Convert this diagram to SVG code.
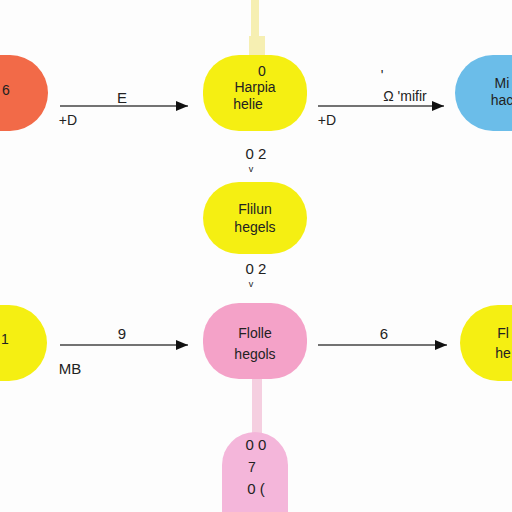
<svg xmlns="http://www.w3.org/2000/svg" width="512" height="512" viewBox="0 0 512 512">
<defs>
<style>
.t{font-family:"Liberation Sans",Arial,sans-serif;fill:#222;text-anchor:middle}
.n{font-size:14px}
.l{font-size:15px}
.s{font-size:9px}
.c{stroke:#444;stroke-width:1.6;fill:none}
</style>
<marker id="ah" viewBox="0 0 12 10" refX="12" refY="5" markerWidth="12" markerHeight="10" markerUnits="userSpaceOnUse" orient="auto">
<path d="M0,0L12,5L0,10Z" fill="#111"/>
</marker>
</defs>
<rect width="512" height="512" fill="#fdfdfd"/>
<g id="bars">
<rect x="251" y="0" width="8" height="45" fill="#f6efb2"/>
<rect x="249" y="36" width="16" height="22" fill="#f6efb2"/>
<rect x="252" y="376" width="10" height="62" fill="#f5cfe0"/>
</g>
<g id="connectors">
<line class="c" x1="60" y1="106" x2="188" y2="106" marker-end="url(#ah)"/>
<line class="c" x1="318" y1="106" x2="444" y2="106" marker-end="url(#ah)"/>
<line class="c" x1="60" y1="345" x2="188" y2="345" marker-end="url(#ah)"/>
<line class="c" x1="318" y1="345" x2="447" y2="345" marker-end="url(#ah)"/>
<text class="t l" x="122" y="103">E</text>
<text class="t n" x="68" y="125">+D</text>
<text class="t n" x="382" y="80" fill="#222">'</text>
<text class="t n" x="405" y="101">Ω 'mifir</text>
<text class="t n" x="327" y="125">+D</text>
<text class="t l" x="256" y="159">0 2</text>
<text class="t s" x="251" y="172">v</text>
<text class="t l" x="256" y="274">0 2</text>
<text class="t s" x="251" y="287">v</text>
<text class="t l" x="122" y="339">9</text>
<text class="t l" x="70" y="374">MB</text>
<text class="t l" x="384" y="339">6</text>
</g>
<g id="n-red">
<rect x="-40" y="55" width="88" height="76" rx="38" fill="#f26a48"/>
<text class="t n" x="6" y="95">6</text>
</g>
<g id="n-top">
<rect x="203" y="55" width="104" height="76" rx="36" fill="#f5ef12"/>
<text class="t n" x="262" y="76">0</text>
<text class="t n" x="255" y="92">Harpia</text>
<text class="t n" x="248" y="109">helie</text>
</g>
<g id="n-blue">
<rect x="455" y="55" width="100" height="76" rx="38" fill="#6bbde9"/>
<text class="t n" x="502" y="88">Mi</text>
<text class="t n" x="502" y="105">hac</text>
</g>
<g id="n-mid">
<rect x="203" y="182" width="104" height="72" rx="36" fill="#f5ef12"/>
<text class="t n" x="255" y="214">Flilun</text>
<text class="t n" x="255" y="232">hegels</text>
</g>
<g id="n-left2">
<rect x="-40" y="305" width="87" height="76" rx="38" fill="#f5ef12"/>
<text class="t n" x="5" y="344">1</text>
</g>
<g id="n-pink">
<rect x="203" y="303" width="104" height="76" rx="36" fill="#f4a2c8"/>
<text class="t n" x="255" y="338">Flolle</text>
<text class="t n" x="255" y="359">hegols</text>
</g>
<g id="n-right2">
<rect x="460" y="305" width="100" height="76" rx="38" fill="#f5ef12"/>
<text class="t n" x="503" y="338">Fl</text>
<text class="t n" x="503" y="358">he</text>
</g>
<g id="n-bottom">
<path d="M222,512V465A33,33 0 0 1 288,465V512Z" fill="#f4b6da"/>
<text class="t l" x="256" y="450">0 0</text>
<text class="t n" x="252" y="472">7</text>
<text class="t l" x="256" y="494">0 (</text>
</g>
</svg>
